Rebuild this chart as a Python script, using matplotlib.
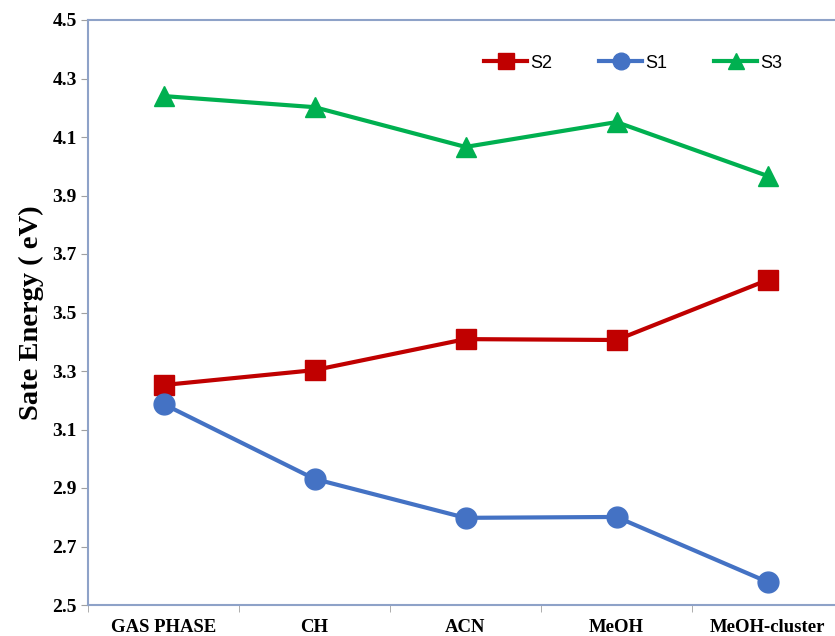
import matplotlib
matplotlib.use("Agg")
import matplotlib.pyplot as plt
from matplotlib.ticker import FixedLocator

categories = ["GAS PHASE", "CH", "ACN", "MeOH", "MeOH-cluster"]
s2 = [3.252, 3.303, 3.409, 3.406, 3.611]
s1 = [3.187, 2.931, 2.798, 2.801, 2.579]
s3 = [4.240, 4.202, 4.066, 4.151, 3.967]
yticks = [2.5, 2.7, 2.9, 3.1, 3.3, 3.5, 3.7, 3.9, 4.1, 4.3, 4.5]

fig = plt.figure(figsize=(8.35, 6.36), dpi=100)
ax = fig.add_axes([88/835, 1-605/636, 755/835, 585/636])

x = list(range(len(categories)))
l2, = ax.plot(x, s2, color="#C00000", lw=3, marker="s", ms=15, label="S2", clip_on=False)
l1, = ax.plot(x, s1, color="#4472C4", lw=3, marker="o", ms=15, label="S1", clip_on=False)
l3, = ax.plot(x, s3, color="#00B050", lw=3, marker="^", ms=15, label="S3", clip_on=False)

ax.set_xlim(-0.5, len(categories) - 0.5)
ax.set_ylim(2.5, 4.5)
ax.set_yticks(yticks)
ax.set_yticklabels([f"{v:.1f}" for v in yticks], fontfamily="Liberation Serif",
                   fontweight="bold", fontsize=14)
ax.set_xticks(x)
ax.set_xticklabels(categories, fontfamily="Liberation Serif", fontweight="bold", fontsize=13.5)
ax.xaxis.set_minor_locator(FixedLocator([i + 0.5 for i in range(-1, len(categories))]))
ax.tick_params(axis="x", which="major", length=0, pad=10)
ax.tick_params(axis="x", which="minor", length=5, color="#A0A0A0")
ax.tick_params(axis="y", length=5, color="#A0A0A0", pad=3)

for sp in ax.spines.values():
    sp.set_color("#8EA2C8")
    sp.set_linewidth(1.5)

ax.set_ylabel("Sate Energy ( eV)", fontfamily="Liberation Serif", fontweight="bold",
              fontsize=20.5, labelpad=6)

fig.legend(handles=[l2, l1, l3], loc="center", bbox_to_anchor=(633/835, 1-63/636),
           ncol=3, frameon=False, markerscale=0.8, handlelength=2.4, columnspacing=2.6,
           handletextpad=0.15, prop={"family": "Liberation Sans", "size": 13})

fig.savefig("out.png", dpi=100)
